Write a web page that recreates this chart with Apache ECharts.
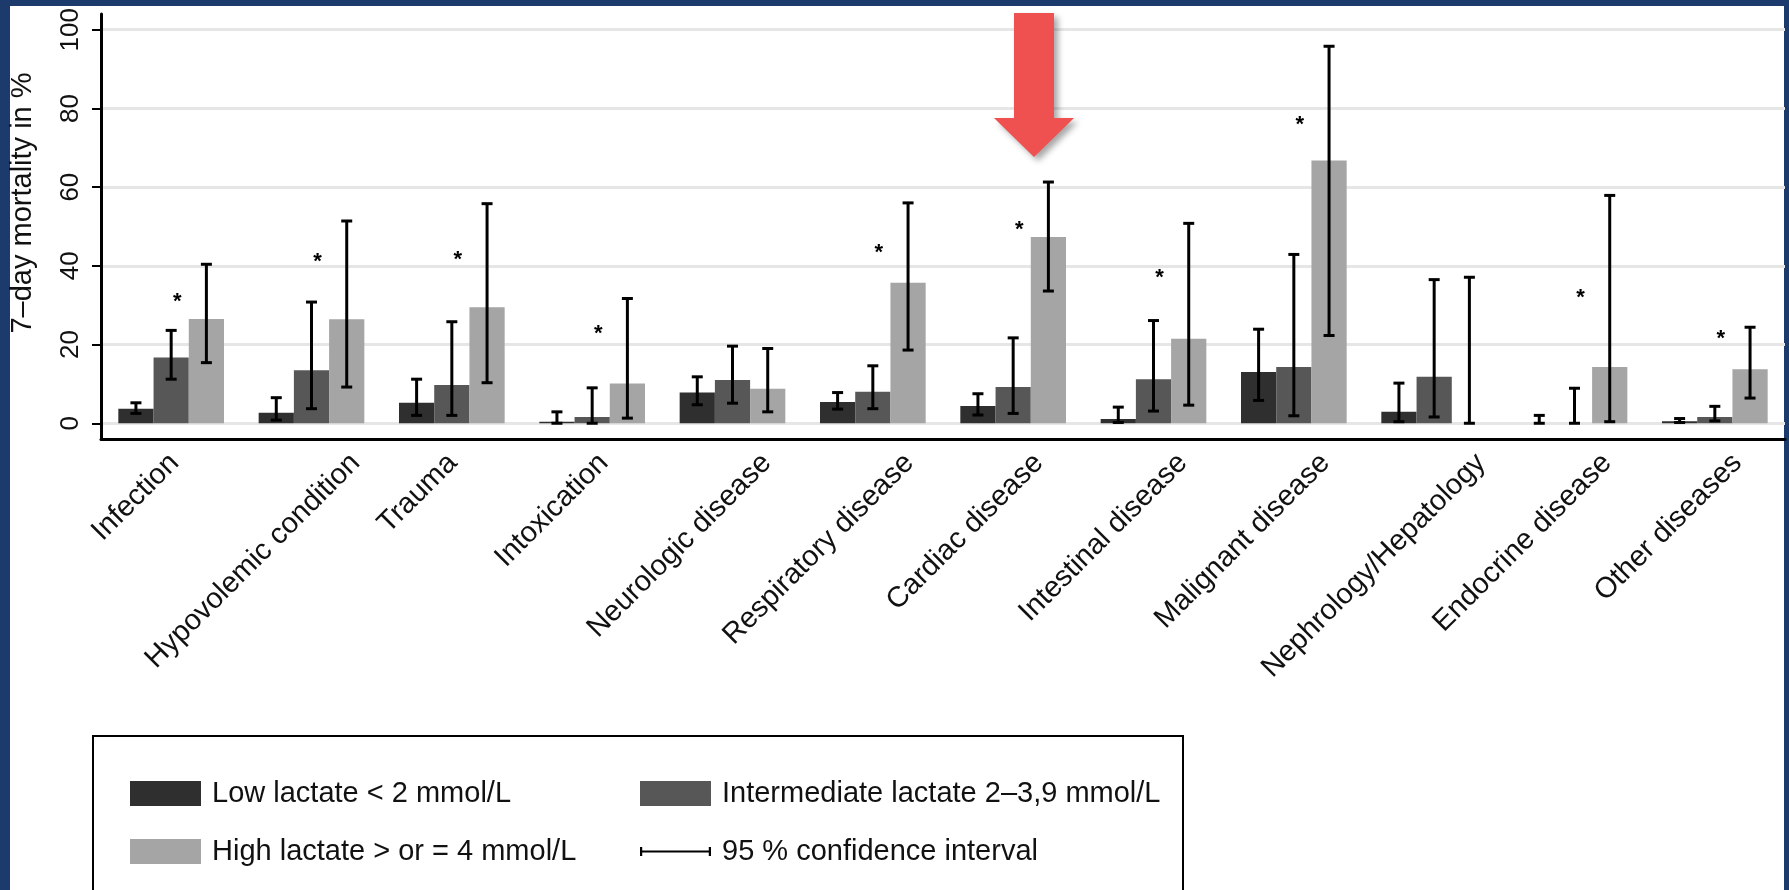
<!DOCTYPE html>
<html>
<head>
<meta charset="utf-8">
<script src="https://cdn.jsdelivr.net/npm/echarts@6/dist/echarts.min.js"></script>
<style>
  html, body { margin: 0; padding: 0; background: #1c3a6c; }
  #chart { width: 1789px; height: 890px; }
</style>
</head>
<body>
<div id="chart"></div>
<script>
// ---- data ----
const categories = ['Infection', 'Hypovolemic condition', 'Trauma', 'Intoxication', 'Neurologic disease',
  'Respiratory disease', 'Cardiac disease', 'Intestinal disease', 'Malignant disease',
  'Nephrology/Hepatology', 'Endocrine disease', 'Other diseases'];
const seriesNames = ['Low lactate < 2 mmol/L', 'Intermediate lactate 2–3,9 mmol/L', 'High lactate > or = 4 mmol/L'];
const ciName = '95 % confidence interval';

const lowValues    = [3.7, 2.7, 5.2, 0.4, 7.8, 5.4, 4.4, 1.1, 13.0, 2.9, 0, 0.5];
const lowCiLow     = [2.5, 0.8, 2.0, 0, 4.7, 3.6, 2.1, 0.2, 5.8, 0.4, 0, 0.2];
const lowCiHigh    = [5.2, 6.5, 11.2, 2.9, 11.8, 7.8, 7.5, 4.1, 23.9, 10.2, 2.0, 1.2];

const interValues  = [16.7, 13.5, 9.7, 1.6, 11.0, 8.0, 9.2, 11.2, 14.3, 11.8, 0, 1.6];
const interCiLow   = [11.2, 3.7, 2.0, 0, 5.1, 3.7, 2.5, 3.1, 1.9, 1.6, 0, 0.6];
const interCiHigh  = [23.6, 30.8, 25.8, 9.0, 19.6, 14.6, 21.7, 26.1, 42.9, 36.5, 8.9, 4.3];

const highValues   = [26.5, 26.4, 29.5, 10.1, 8.8, 35.7, 47.3, 21.5, 66.8, 0, 14.3, 13.7];
const highCiLow    = [15.4, 9.2, 10.3, 1.3, 2.9, 18.6, 33.6, 4.6, 22.3, 0, 0.4, 6.4];
const highCiHigh   = [40.4, 51.4, 55.8, 31.7, 19.0, 56.0, 61.3, 50.8, 95.8, 37.1, 57.9, 24.4];

// significance markers (*) : height in %, null = none
const starValues   = [32.2, 42.3, 42.7, 23.9, null, 44.6, 50.5, 38.1, 77.2, null, 33.2, 22.6];

const yTickValues  = [0, 20, 40, 60, 80, 100];
const yAxisTitle   = '7–day mortality in %';

// ---- styling ----
const FONT = '"Liberation Sans", Arial, Helvetica, sans-serif';
const TEXT = '#111111';
const COLORS = ['#2f2f2f', '#575757', '#a5a5a5'];
const Y_MIN = -4, Y_MAX = 104;
const GAP = 0.247;
const LABEL_SIZE = 29;

const measureCtx = document.createElement('canvas').getContext('2d');
function textWidth(t, size) {
  measureCtx.font = size + 'px ' + FONT;
  return measureCtx.measureText(t).width;
}

function errorBarRenderer(k) {
  return function (params, api) {
    const i = api.value(0);
    const pLo = api.coord([i, api.value(1)]);
    const pHi = api.coord([i, api.value(2)]);
    const band = api.size([1, 0])[0];
    const bw = band * (1 - GAP) / 3;
    const x = pLo[0] - 1.5 * bw + (k + 0.5) * bw;
    const cap = 5.5;
    const st = { stroke: '#000', lineWidth: 3 };
    return {
      type: 'group',
      children: [
        { type: 'line', shape: { x1: x, y1: pLo[1], x2: x, y2: pHi[1] }, style: st },
        { type: 'line', shape: { x1: x - cap, y1: pHi[1], x2: x + cap, y2: pHi[1] }, style: st },
        { type: 'line', shape: { x1: x - cap, y1: pLo[1], x2: x + cap, y2: pLo[1] }, style: st }
      ]
    };
  };
}

function rows(lo, hi) { return categories.map((c, i) => [i, lo[i], hi[i]]); }

const chart = echarts.init(document.getElementById('chart'), null, { renderer: 'canvas' });

const option = {
  backgroundColor: '#1c3a6c',
  animation: false,
  textStyle: { fontFamily: FONT },
  graphic: [
    { type: 'rect', z: -10, shape: { x: 10, y: 6, width: 1774, height: 890 }, style: { fill: '#ffffff' }, silent: true },
    { type: 'rect', z: 1, shape: { x: 93, y: 736, width: 1090, height: 200 }, style: { fill: 'none', stroke: '#000', lineWidth: 2 }, silent: true },
    {
      type: 'polygon', z: 50, silent: true,
      shape: { points: [[1014, 13], [1054, 13], [1054, 118], [1074, 118], [1034, 157], [994, 118], [1014, 118]] },
      style: { fill: '#ef5050', shadowBlur: 6, shadowOffsetX: 4, shadowOffsetY: 4, shadowColor: 'rgba(0,0,0,0.35)' }
    }
  ],
  legend: [
    {
      orient: 'vertical', left: 125, top: 774,
      itemWidth: 71, itemHeight: 25, itemGap: 29, icon: 'rect',
      selectedMode: false,
      textStyle: { fontSize: 29, color: TEXT, fontFamily: FONT, lineHeight: 25, padding: [0, 0, 0, 6] },
      data: [{ name: seriesNames[0] }, { name: seriesNames[2] }]
    },
    {
      orient: 'vertical', left: 635, top: 774,
      itemWidth: 71, itemHeight: 25, itemGap: 29, icon: 'rect',
      selectedMode: false,
      textStyle: { fontSize: 29, color: TEXT, fontFamily: FONT, lineHeight: 25, padding: [0, 0, 0, 6] },
      data: [
        { name: seriesNames[1] },
        { name: ciName, icon: 'path://M0,0h2v8h-2z M2,3h60v2h-60z M62,0h2v8h-2z', itemStyle: { color: '#000' } }
      ]
    }
  ],
  grid: { left: 98, right: 4, top: 14, bottom: 451, containLabel: false },
  xAxis: {
    type: 'category',
    data: categories,
    axisLine: { onZero: false, lineStyle: { color: '#000', width: 3 } },
    axisTick: { show: false },
    axisLabel: { show: false },
    splitLine: { show: false }
  },
  yAxis: {
    type: 'value',
    min: Y_MIN, max: Y_MAX,
    name: yAxisTitle,
    nameLocation: 'middle',
    nameRotate: 90,
    nameGap: 64,
    nameTextStyle: { fontSize: 29, color: TEXT, fontFamily: FONT, padding: [0, 0, 0, 47] },
    axisLine: { show: true, lineStyle: { color: '#000', width: 3 } },
    axisTick: { show: true, length: 9, customValues: yTickValues, lineStyle: { color: '#000', width: 2 } },
    axisLabel: { customValues: yTickValues, rotate: 90, fontSize: 26, color: TEXT, fontFamily: FONT, margin: 17 },
    splitLine: { show: true, lineStyle: { color: '#e6e6e6', width: 3 } }
  },
  series: [
    {
      name: seriesNames[0], type: 'bar', data: lowValues, barGap: '0%', barCategoryGap: (GAP * 100) + '%',
      itemStyle: { color: COLORS[0] }, z: 2
    },
    {
      name: seriesNames[1], type: 'bar', data: interValues, barGap: '0%', barCategoryGap: (GAP * 100) + '%',
      itemStyle: { color: COLORS[1] }, z: 2
    },
    {
      name: seriesNames[2], type: 'bar', data: highValues, barGap: '0%', barCategoryGap: (GAP * 100) + '%',
      itemStyle: { color: COLORS[2] }, z: 2
    },
    {
      name: ciName, type: 'custom', renderItem: errorBarRenderer(0), data: rows(lowCiLow, lowCiHigh),
      encode: { x: 0, y: [1, 2] }, itemStyle: { color: '#000' }, z: 5, clip: false, silent: true
    },
    {
      name: ciName, type: 'custom', renderItem: errorBarRenderer(1), data: rows(interCiLow, interCiHigh),
      encode: { x: 0, y: [1, 2] }, itemStyle: { color: '#000' }, z: 5, clip: false, silent: true
    },
    {
      name: ciName, type: 'custom', renderItem: errorBarRenderer(2), data: rows(highCiLow, highCiHigh),
      encode: { x: 0, y: [1, 2] }, itemStyle: { color: '#000' }, z: 5, clip: false, silent: true
    },
    {
      name: 'significance', type: 'custom', z: 6, clip: false, silent: true,
      data: starValues.map((v, i) => [i, v]).filter(d => d[1] != null),
      encode: { x: 0, y: 1 },
      renderItem: function (params, api) {
        const p = api.coord([api.value(0), api.value(1)]);
        return {
          type: 'text', x: p[0] + 6, y: p[1] + 5,
          style: { text: '*', font: 'bold 22px ' + FONT, fill: '#000', align: 'center', verticalAlign: 'middle' }
        };
      }
    },
    {
      name: 'categoryLabels', type: 'custom', z: 6, clip: false, silent: true,
      data: categories.map((c, i) => [i, Y_MIN]),
      encode: { x: 0, y: 1 },
      renderItem: function (params, api) {
        const i = api.value(0);
        const p = api.coord([i, Y_MIN]);
        const name = categories[i];
        const L = textWidth(name, LABEL_SIZE);
        return {
          type: 'text', x: p[0] + 0.226 * L - 21.5, y: p[1] + 19.5, rotation: Math.PI / 4,
          style: { text: name, font: LABEL_SIZE + 'px ' + FONT, fill: TEXT, align: 'right', verticalAlign: 'middle' }
        };
      }
    }
  ]
};
chart.setOption(option);
</script>
</body>
</html>
